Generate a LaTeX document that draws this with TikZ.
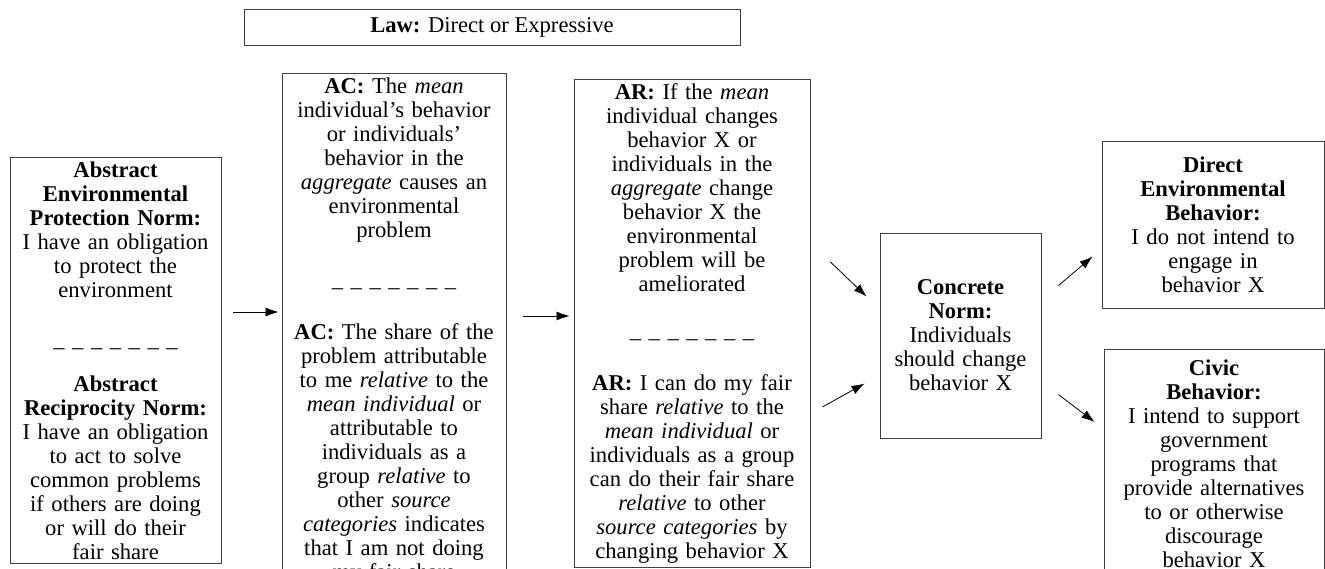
\documentclass[tikz,border=0pt]{standalone}
\usepackage{fontspec}
\setmainfont{Liberation Serif}
\usepackage{tikz}
\usetikzlibrary{arrows.meta}
\newcommand{\boxfont}{\fontsize{22.6pt}{24pt}\selectfont}
\newcommand{\dashrow}{\textendash\ \textendash\ \textendash\ \textendash\ \textendash\ \textendash\ \textendash}
\tikzset{
  box/.style={draw=black!75, line width=0.9pt, align=center, font=\boxfont, inner xsep=5pt, inner ysep=4pt},
  arr/.style={-{Latex[length=13pt,width=9pt]}, line width=0.8pt}
}

\begin{document}
\begin{tikzpicture}[x=1pt,y=-1pt]
  \useasboundingbox (0,0) rectangle (1325,569);
  % law on top
  \node[box, minimum width=496pt, minimum height=36pt] (law) at (492,27) {\textbf{Law:} Direct or Expressive};
  % abstract norms
  \node[box, anchor=north, text width=201pt] (absnorm) at (115.5,157) {\textbf{Abstract}\\\textbf{Environmental}\\\textbf{Protection Norm:}\\I have an obligation\\to protect the\\environment\\[33pt]\dashrow\\[13pt]\textbf{Abstract}\\\textbf{Reciprocity Norm:}\\I have an obligation\\to act to solve\\common problems\\if others are doing\\or will do their\\fair share};
  % awareness of consequences
  \node[box, anchor=north, text width=214pt] (ac) at (394,73) {\textbf{AC:} The \textit{mean}\\individual's behavior\\or individuals'\\behavior in the\\\textit{aggregate} causes an\\environmental\\problem\\[33pt]\dashrow\\[21pt]\textbf{AC:} The share of the\\problem attributable\\to me \textit{relative} to the\\\textit{mean individual} or\\attributable to\\individuals as a\\group \textit{relative} to\\other \textit{source}\\\textit{categories} indicates\\that I am not doing\\my fair share};
  % ascription of responsibility
  \node[box, anchor=north, text width=226pt] (ar) at (692,79) {\textbf{AR:} If the \textit{mean}\\individual changes\\behavior X or\\individuals in the\\\textit{aggregate} change\\behavior X the\\environmental\\problem will be\\ameliorated\\[30pt]\dashrow\\[21pt]\textbf{AR:} I can do my fair\\share \textit{relative} to the\\\textit{mean individual} or\\individuals as a group\\can do their fair share\\\textit{relative} to other\\\textit{source categories} by\\changing behavior X};
  % concrete norm
  \node[box, minimum width=161pt, minimum height=205pt, text width=151pt] (concrete) at (960.5,335.5) {\textbf{Concrete}\\\textbf{Norm:}\\Individuals\\should change\\behavior X};
  % behaviors
  \node[box, minimum width=222pt, minimum height=167pt, text width=212pt] (direct) at (1213,224.5) {\textbf{Direct}\\\textbf{Environmental}\\\textbf{Behavior:}\\I do not intend to\\engage in\\behavior X};
  \node[box, anchor=north, inner ysep=10pt, minimum width=220pt, text width=210pt] (civic) at (1214,349) {\textbf{Civic}\\\textbf{Behavior:}\\I intend to support\\government\\programs that\\provide alternatives\\to or otherwise\\discourage\\behavior X};
  % arrows
  \draw[arr] ([xshift=12pt,yshift=-155pt]absnorm.north east) -- ([xshift=-3pt,yshift=-239pt]ac.north west);
  \draw[arr] ([xshift=17pt,yshift=-243pt]ac.north east) -- ([xshift=-4pt,yshift=-237pt]ar.north west);
  \draw[arr] ([xshift=20pt,yshift=-183pt]ar.north east) -- ([xshift=-13pt,yshift=-64pt]concrete.north west);
  \draw[arr] ([xshift=12pt,yshift=-328pt]ar.north east) -- ([xshift=-15pt,yshift=-151pt]concrete.north west);
  \draw[arr] ([xshift=17pt,yshift=-53pt]concrete.north east) -- ([xshift=-9pt,yshift=-116pt]direct.north west);
  \draw[arr] ([xshift=17pt,yshift=-162pt]concrete.north east) -- ([xshift=-9pt,yshift=-73pt]civic.north west);
\end{tikzpicture}
\end{document}
